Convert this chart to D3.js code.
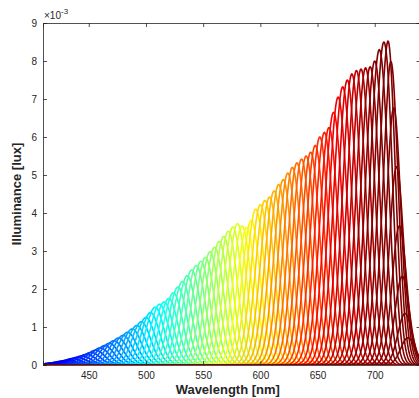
<!DOCTYPE html>
<html>
<head>
<meta charset="utf-8">
<script src="https://cdn.jsdelivr.net/npm/d3@7"></script>
<style>
  body { margin: 0; background: #fff; }
  text { font-family: "Liberation Sans", Arial, sans-serif; fill: #262626; }
</style>
</head>
<body>
<div id="chart"></div>
<script>
// peak centre of each spectrum [nm]
const centers = [412, 416, 420, 424, 428, 432, 436, 440, 444, 448, 452, 456, 460, 464, 468,
  472, 476, 480, 484, 488, 492, 496, 500, 504, 508, 512, 516, 520, 524, 528, 532, 536, 540,
  544, 548, 552, 556, 560, 564, 568, 572, 576, 580, 584, 588, 592, 596, 600, 604, 608, 612,
  616, 620, 624, 628, 632, 636, 640, 644, 648, 652, 656, 660, 664, 668, 672, 676, 680, 684,
  688, 692, 696, 700, 704, 708, 712, 716, 720, 724, 728, 732, 736, 740];
// peak illuminance of each spectrum [x 1e-3 lux]
const peaks = [0.03, 0.04, 0.06, 0.08, 0.11, 0.13, 0.17, 0.2, 0.24, 0.28, 0.33, 0.39, 0.45, 0.51, 0.57,
  0.64, 0.71, 0.78, 0.86, 0.95, 1.04, 1.14, 1.25, 1.38, 1.52, 1.6, 1.66, 1.75, 1.9, 2.05, 2.2, 2.35, 2.5,
  2.62, 2.73, 2.83, 2.98, 3.1, 3.25, 3.38, 3.52, 3.63, 3.72, 3.66, 3.62, 3.8, 4.1, 4.22, 4.33, 4.42, 4.58,
  4.75, 4.88, 5.05, 5.2, 5.32, 5.42, 5.5, 5.6, 5.78, 6.0, 6.12, 6.25, 6.65, 7.05, 7.32, 7.5, 7.66, 7.75,
  7.79, 7.82, 7.85, 8.0, 8.3, 8.5, 8.55, 8.6, 8.6, 8.6, 8.6, 8.6, 8.6, 8.6];
const bandWidth = 8;      // gaussian sigma of each band [nm]
const cutoffStart = 711;  // long-pass edge of the detector [nm]
const cutoffWidth = 14.5;

const xTicks = [450, 500, 550, 600, 650, 700];
const yTicks = [0, 1, 2, 3, 4, 5, 6, 7, 8, 9];

const width = 419, height = 398;
const m = { left: 43, top: 23, right: 420.5, bottom: 365 };

const svg = d3.select("#chart")
  .append("svg")
  .attr("width", width)
  .attr("height", height);

const x = d3.scaleLinear().domain([410, 740]).range([m.left, m.right]);
const y = d3.scaleLinear().domain([0, 9]).range([m.bottom, m.top]);

// matlab jet colormap
function jet(t) {
  const c = v => Math.max(0, Math.min(1, v));
  const r = c(1.5 - Math.abs(4 * t - 3));
  const g = c(1.5 - Math.abs(4 * t - 2));
  const b = c(1.5 - Math.abs(4 * t - 1));
  return d3.rgb(r * 255, g * 255, b * 255).toString();
}
const colorT = d3.scaleLinear().domain([400, 703]).range([0, 1]).clamp(true);

const grid = d3.range(410, 740.01, 0.5);
function spectrum(c, a) {
  return grid.map(l => {
    let v = a * Math.exp(-((l - c) * (l - c)) / (2 * bandWidth * bandWidth));
    if (l > cutoffStart) v *= Math.exp(-Math.pow((l - cutoffStart) / cutoffWidth, 2));
    return [l, v];
  });
}

svg.append("clipPath").attr("id", "plot")
  .append("rect")
  .attr("x", m.left).attr("y", m.top - 2)
  .attr("width", m.right - m.left).attr("height", m.bottom - m.top + 2);

const line = d3.line()
  .x(d => x(d[0]))
  .y(d => y(d[1]));

svg.append("g")
  .attr("clip-path", "url(#plot)")
  .selectAll("path")
  .data(centers.map((c, i) => ({ c: c, a: peaks[i] })))
  .enter().append("path")
  .attr("fill", "none")
  .attr("stroke", d => jet(colorT(d.c)))
  .attr("stroke-width", 1.6)
  .attr("stroke-linejoin", "round")
  .attr("d", d => line(spectrum(d.c, d.a)));

// axes, matlab box style with inward ticks
const axisColor = "#262626";
const gx = svg.append("g")
  .attr("transform", "translate(0," + m.bottom + ")")
  .call(d3.axisBottom(x).tickValues(xTicks).tickSize(-4).tickPadding(7));
const gxTop = svg.append("g")
  .attr("transform", "translate(0," + m.top + ")")
  .call(d3.axisTop(x).tickValues(xTicks).tickSize(-4).tickFormat(""));
const gy = svg.append("g")
  .attr("transform", "translate(" + m.left + ",0)")
  .call(d3.axisLeft(y).tickValues(yTicks).tickSize(-4).tickPadding(6));
const gyRight = svg.append("g")
  .attr("transform", "translate(" + m.right + ",0)")
  .call(d3.axisRight(y).tickValues(yTicks).tickSize(-4).tickFormat(""));

[gx, gxTop, gy, gyRight].forEach(g => {
  g.select(".domain").attr("stroke", axisColor).attr("stroke-width", 0.8);
  g.selectAll(".tick line").attr("stroke", axisColor).attr("stroke-width", 0.8);
  g.selectAll("text")
    .style("font-family", "'Liberation Sans', Arial, sans-serif")
    .style("font-size", "10px")
    .attr("fill", axisColor);
});

// exponent
const expo = svg.append("text")
  .attr("x", m.left + 1)
  .attr("y", m.top - 4)
  .style("font-size", "10px");
expo.append("tspan").text("\u00d710");
expo.append("tspan").attr("dy", -5).style("font-size", "8px").text("-3");

svg.append("text")
  .attr("x", (m.left + m.right) / 2 - 4)
  .attr("y", 394)
  .attr("text-anchor", "middle")
  .style("font-size", "13px")
  .style("font-weight", "bold")
  .text("Wavelength [nm]");

svg.append("text")
  .attr("transform", "translate(21," + ((m.top + m.bottom) / 2) + ") rotate(-90)")
  .attr("text-anchor", "middle")
  .style("font-size", "13px")
  .style("font-weight", "bold")
  .text("Illuminance [lux]");
</script>
</body>
</html>
